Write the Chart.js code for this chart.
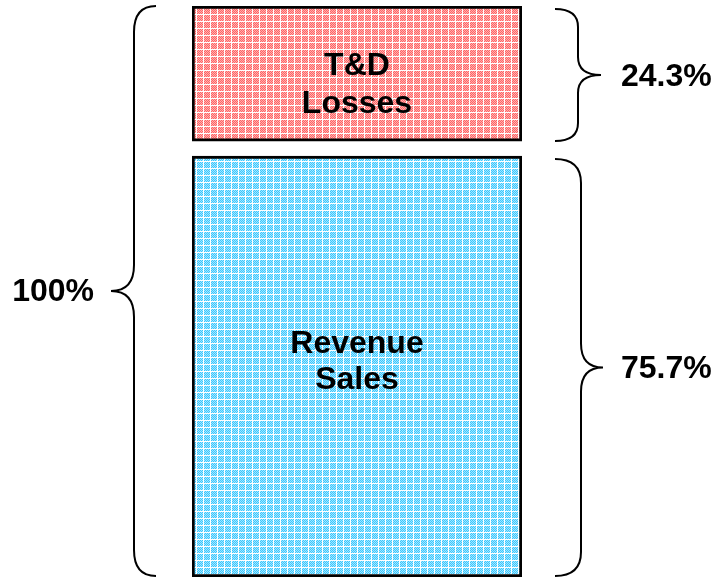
<!DOCTYPE html>
<html>
<head>
<meta charset="utf-8">
<script src="https://cdn.jsdelivr.net/npm/chart.js@4.4.1/dist/chart.umd.min.js"></script>
<style>
  html, body { margin:0; padding:0; background:#fff; }
  #wrap { width:718px; height:578px; position:relative; }
</style>
</head>
<body>
<div id="wrap"><canvas id="chart"></canvas></div>
<script>
// data
const categories = ["Energy"];
const segmentNames = ["Revenue Sales", "T&D Losses"];
const segmentLines = [["Revenue", "Sales"], ["T&D", "Losses"]];
const shares = [75.7, 24.3];
const totalLabel = "100%";

const total = shares[0] + shares[1];
const gapUnits = 2.7; // white space between the two boxes

function makePattern(base, light) {
  const c = document.createElement("canvas");
  c.width = 7; c.height = 7;
  const g = c.getContext("2d");
  g.fillStyle = base;
  g.fillRect(0, 0, 7, 7);
  g.fillStyle = light;
  for (let i = 1; i < 7; i++) {
    for (let j = 1; j < 7; j++) {
      if ((i + j) % 2 === 0) g.fillRect(i, j, 1, 1);
    }
  }
  g.fillStyle = "#ffffff";
  g.fillRect(0, 0, 7, 1);
  g.fillRect(0, 0, 1, 7);
  return g.createPattern(c, "repeat");
}

const blueFill = makePattern("#38c8ff", "#a6e6ff");
const redFill = makePattern("#ff6464", "#ffb0b0");

const FONT = "bold 32px 'Liberation Sans', Arial, sans-serif";

// curly brace, y1 above y2; tip at xTip
function brace(ctx, xLine, xEnd, xTip, y1, y2, r) {
  const ym = (y1 + y2) / 2;
  ctx.beginPath();
  ctx.moveTo(xEnd, y1);
  ctx.quadraticCurveTo(xLine, y1, xLine, y1 + r);
  ctx.lineTo(xLine, ym - r);
  ctx.quadraticCurveTo(xLine, ym, xTip, ym);
  ctx.quadraticCurveTo(xLine, ym, xLine, ym + r);
  ctx.lineTo(xLine, y2 - r);
  ctx.quadraticCurveTo(xLine, y2, xEnd, y2);
  ctx.stroke();
}

const annotations = {
  id: "annotations",
  afterDatasetsDraw(chart) {
    const ctx = chart.ctx;
    const y = chart.scales.y;
    const area = chart.chartArea;
    const yBottom = y.getPixelForValue(0);
    const yBlueTop = y.getPixelForValue(shares[0]);
    const yRedBottom = y.getPixelForValue(shares[0] + gapUnits);
    const yTop = y.getPixelForValue(total + gapUnits);
    const cx = (area.left + area.right) / 2;

    ctx.save();
    ctx.strokeStyle = "#000";
    ctx.lineWidth = 2;
    // left brace around everything
    brace(ctx, area.left - 58, area.left - 36, area.left - 81, yTop, yBottom - 1, 26);
    // right braces
    brace(ctx, area.right + 56, area.right + 33, area.right + 79, yTop + 3, yRedBottom, 18);
    brace(ctx, area.right + 59, area.right + 33, area.right + 81, yBlueTop + 3, yBottom - 1, 24);

    ctx.fillStyle = "#000";
    ctx.font = FONT;
    ctx.textBaseline = "middle";
    ctx.textAlign = "right";
    ctx.fillText(totalLabel, area.left - 98, (yTop + yBottom) / 2 + 1);
    ctx.textAlign = "left";
    ctx.fillText(shares[1].toFixed(1) + "%", area.right + 99, (yTop + yRedBottom) / 2 + 4);
    ctx.fillText(shares[0].toFixed(1) + "%", area.right + 99, (yBlueTop + yBottom) / 2 + 3);

    // labels inside the boxes
    ctx.textAlign = "center";
    const redMid = (yTop + yRedBottom) / 2 + 12;
    ctx.fillText(segmentLines[1][0], cx, redMid - 19);
    ctx.fillText(segmentLines[1][1], cx, redMid + 19);
    const blueMid = (yBlueTop + yBottom) / 2 - 4;
    ctx.fillText(segmentLines[0][0], cx, blueMid - 18);
    ctx.fillText(segmentLines[0][1], cx, blueMid + 18);
    ctx.restore();
  }
};

new Chart(document.getElementById("chart"), {
  type: "bar",
  data: {
    labels: categories,
    datasets: [
      {
        label: segmentNames[0],
        data: [[0, shares[0]]],
        backgroundColor: blueFill,
        borderColor: "#000",
        borderWidth: 3,
        borderSkipped: false
      },
      {
        label: segmentNames[1],
        data: [[shares[0] + gapUnits, total + gapUnits]],
        backgroundColor: redFill,
        borderColor: "#000",
        borderWidth: 3,
        borderSkipped: false
      }
    ]
  },
  options: {
    responsive: true,
    maintainAspectRatio: false,
    animation: false,
    barPercentage: 1,
    categoryPercentage: 1,
    layout: { padding: { left: 192, right: 196, top: 6, bottom: 1 } },
    plugins: { legend: { display: false }, tooltip: { enabled: false } },
    scales: {
      x: { stacked: true, display: false },
      y: { display: false, min: 0, max: total + gapUnits }
    }
  },
  plugins: [annotations]
});
</script>
</body>
</html>
